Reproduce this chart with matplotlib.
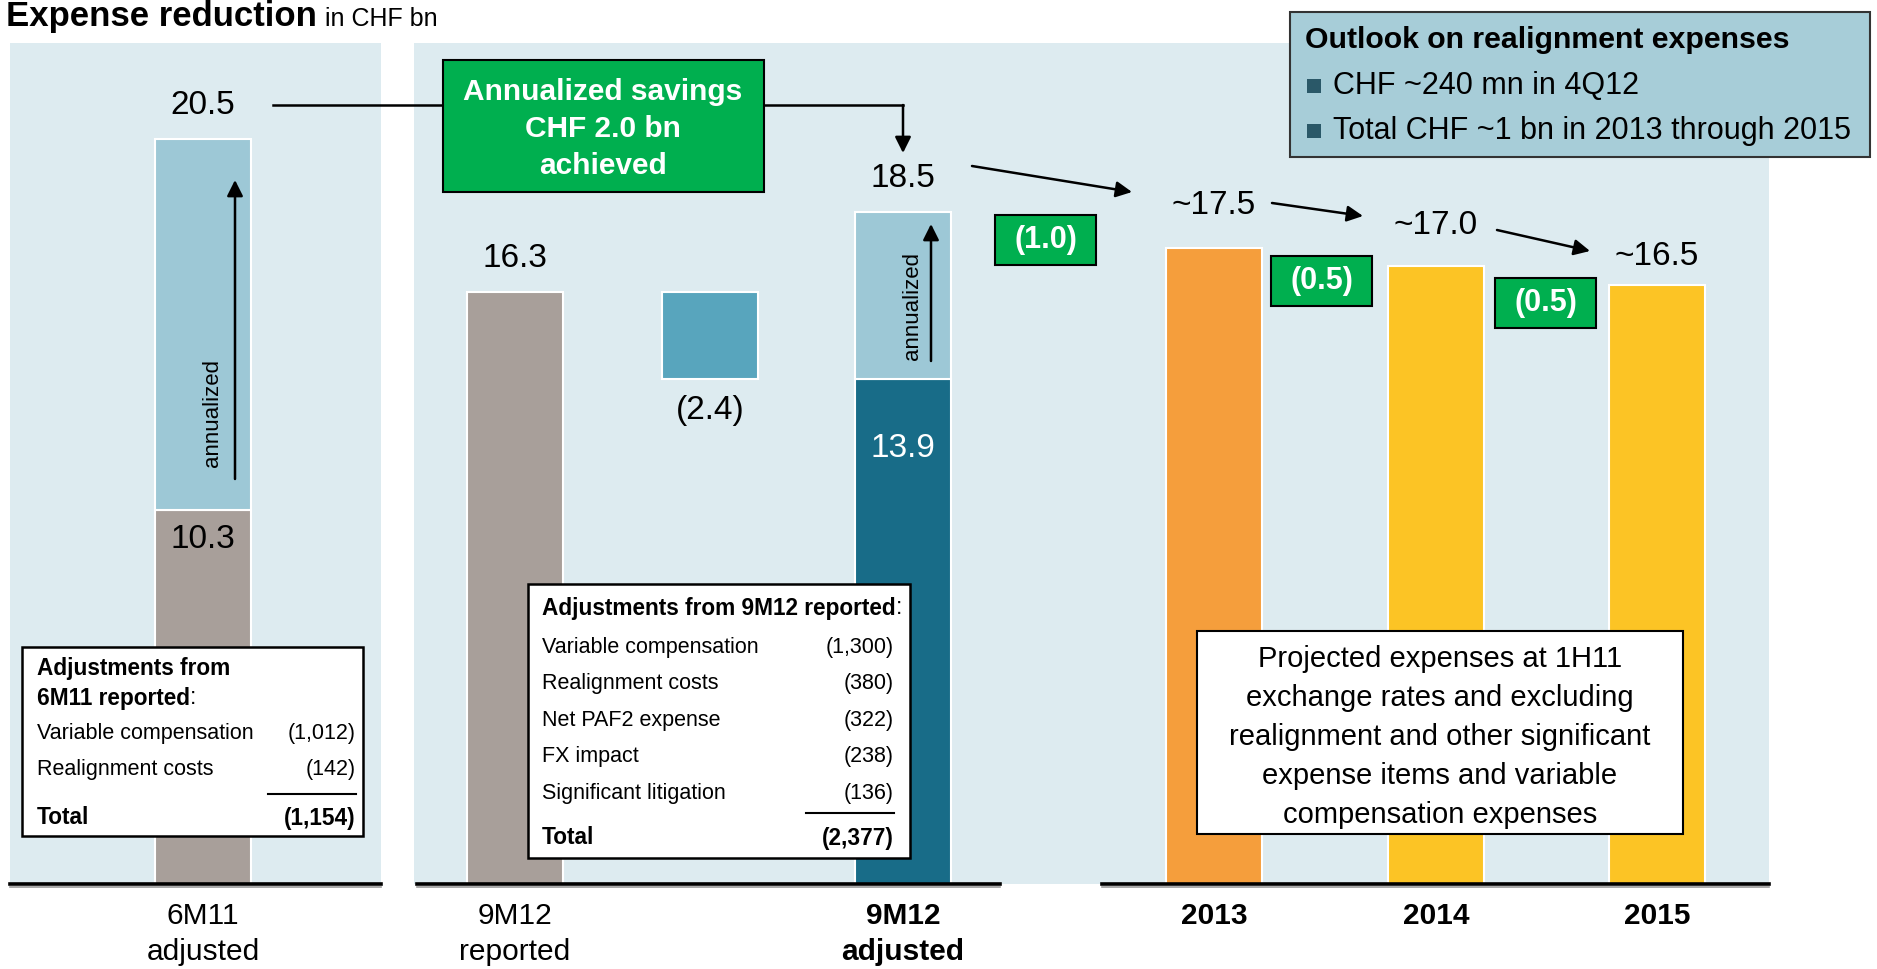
import matplotlib.pyplot as plt
from matplotlib.patches import Rectangle

# ---- data (CHF bn) ----
expense_6m11 = 10.3
annualized_6m11 = 20.5
reported_9m12 = 16.3
adjustment_9m12 = 2.4
adjusted_9m12 = 13.9
annualized_9m12 = 18.5
years = ['2013', '2014', '2015']
projected = [17.5, 17.0, 16.5]
year_savings = ['(1.0)', '(0.5)', '(0.5)']
savings_note = 'Annualized savings\nCHF 2.0 bn\nachieved'

adj_6m11_items = ['Variable compensation', 'Realignment costs']
adj_6m11_values = ['(1,012)', '(142)']
adj_6m11_total = '(1,154)'
adj_9m12_items = ['Variable compensation', 'Realignment costs', 'Net PAF2 expense',
                  'FX impact', 'Significant litigation']
adj_9m12_values = ['(1,300)', '(380)', '(322)', '(238)', '(136)']
adj_9m12_total = '(2,377)'

outlook_title = 'Outlook on realignment expenses'
outlook_points = ['CHF ~240 mn in 4Q12', 'Total CHF ~1 bn in 2013 through 2015']
projected_note = ('Projected expenses at 1H11\nexchange rates and excluding\n'
                  'realignment and other significant\nexpense items and variable\n'
                  'compensation expenses')

# ---- colours ----
PANEL = '#DDEBF0'
GREY = '#A89F9A'
LIGHT = '#9DC8D6'
MID = '#58A5BD'
DARK = '#186C88'
ORANGE = '#F59E3C'
YELLOW = '#FCC425'
GREEN = '#00AF4F'

plt.rcParams['font.family'] = ['Liberation Sans', 'DejaVu Sans']

# figure in pixels; y axis in CHF bn, x axis in pixels
W, H = 1877, 969
BASE = 883.5      # pixel row of the zero line
PPU = 36.3        # pixels per CHF bn

fig = plt.figure(figsize=(W / 100, H / 100), dpi=100)
ax = fig.add_axes([0, 0, 1, 1])
ax.set_xlim(0, W)
ax.set_ylim((BASE - H) / PPU, BASE / PPU)
ax.axis('off')


def Y(py):
    return (BASE - py) / PPU


def box(x0, y0, x1, y1, **kw):
    ax.add_patch(Rectangle((x0, Y(y1)), x1 - x0, Y(y0) - Y(y1), **kw))


def arrow(p0, p1, lw=1.8):
    ax.annotate('', xy=(p1[0], Y(p1[1])), xytext=(p0[0], Y(p0[1])),
                arrowprops=dict(arrowstyle='-|>', color='black', lw=lw,
                                mutation_scale=24, shrinkA=0, shrinkB=0),
                zorder=6)


# panels and baselines
box(10, 43, 381, BASE, fc=PANEL, ec='none', zorder=0)
box(414, 43, 1769, BASE, fc=PANEL, ec='none', zorder=0)
for x0, x1 in [(10, 381), (417, 1000), (1102, 1769)]:
    ax.plot([x0, x1], [Y(BASE + 3)] * 2, color='#9a9a9a', lw=1.2, zorder=3)
    ax.plot([x0, x1], [0, 0], color='black', lw=2.6, zorder=4)

# bars
bw = 96
xs = dict(a=203, r=515, g=710, j=903)
year_x = [1214, 1436, 1657]
kw = dict(width=bw, edgecolor='white', linewidth=1.5, zorder=2)
ax.bar(xs['a'], expense_6m11, color=GREY, **kw)
ax.bar(xs['a'], annualized_6m11 - expense_6m11, bottom=expense_6m11, color=LIGHT, **kw)
ax.bar(xs['r'], reported_9m12, color=GREY, **kw)
ax.bar(xs['g'], adjustment_9m12, bottom=reported_9m12 - adjustment_9m12, color=MID, **kw)
ax.bar(xs['j'], adjusted_9m12, color=DARK, **kw)
ax.bar(xs['j'], annualized_9m12 - adjusted_9m12, bottom=adjusted_9m12, color=LIGHT, **kw)
ax.bar(year_x, projected, color=[ORANGE, YELLOW, YELLOW], **kw)

# value labels
NUM = 24
lab = dict(ha='center', va='center', fontsize=NUM, zorder=7)
ax.text(xs['a'], annualized_6m11 + 34 / PPU, f'{annualized_6m11:.1f}', **lab)
ax.text(xs['a'], expense_6m11 - 30 / PPU, f'{expense_6m11:.1f}', **lab)
ax.text(xs['r'], reported_9m12 + 33 / PPU, f'{reported_9m12:.1f}', **lab)
ax.text(xs['g'], reported_9m12 - adjustment_9m12 - 32 / PPU, f'({adjustment_9m12:.1f})', **lab)
ax.text(xs['j'], annualized_9m12 + 33 / PPU, f'{annualized_9m12:.1f}', **lab)
ax.text(xs['j'], adjusted_9m12 - 70 / PPU, f'{adjusted_9m12:.1f}', color='white', **lab)
for x, v, off in zip(year_x, projected, [43, 41, 28]):
    ax.text(x, v + off / PPU, f'~{v:.1f}', **lab)

# annualized arrows
arrow((235, 479), (235, 180))
ax.text(213, Y(413), 'annualized', rotation=90, ha='center', va='center', fontsize=16, zorder=7)
arrow((931, 361), (931, 224))
ax.text(913, Y(306), 'annualized', rotation=90, ha='center', va='center', fontsize=16, zorder=7)

# green savings boxes
box(443, 60, 764, 192, fc=GREEN, ec='black', lw=1.5, zorder=5)
ax.text(603, Y(129), savings_note, ha='center', va='center', color='white',
        fontsize=21.5, fontweight='bold', linespacing=1.4, zorder=7)
for (x0, y0), s in zip([(995, 215), (1271, 256), (1495, 278)], year_savings):
    box(x0, y0, x0 + 101, y0 + 50, fc=GREEN, ec='black', lw=1.5, zorder=5)
    ax.text(x0 + 50.5, Y(y0 + 25), s, ha='center', va='center', color='white',
            fontsize=22, fontweight='bold', zorder=7)

# connector lines and arrows
ax.plot([273, 443], [Y(105)] * 2, color='black', lw=1.8, zorder=4)
ax.plot([764, 903], [Y(105)] * 2, color='black', lw=1.8, zorder=4)
arrow((903, 105), (903, 153))
arrow((972, 166), (1132, 192))
arrow((1272, 203), (1363, 216))
arrow((1497, 230), (1590, 251))

# adjustment tables
TS = 15.5
TB = 16.3
box(22, 647, 363, 836, fc='white', ec='black', lw=1.8, zorder=5)
ax.text(37, Y(669), 'Adjustments from', fontsize=TB, fontweight='bold', va='center', zorder=7)
t = ax.text(37, Y(698), '6M11 reported', fontsize=TB, fontweight='bold', va='center', zorder=7)
ax.annotate(':', xy=(1, 0.5), xycoords=t, va='center', fontsize=TB, zorder=7)
for item, val, py in zip(adj_6m11_items, adj_6m11_values, [734, 770]):
    ax.text(37, Y(py), item, fontsize=TS, va='center', zorder=7)
    ax.text(356, Y(py), val, fontsize=TS, va='center', ha='right', zorder=7)
ax.plot([268, 356], [Y(794)] * 2, color='black', lw=1.5, zorder=7)
ax.text(37, Y(818), 'Total', fontsize=TB, fontweight='bold', va='center', zorder=7)
ax.text(356, Y(818), adj_6m11_total, fontsize=TB, fontweight='bold', va='center', ha='right', zorder=7)

box(528, 584, 910, 858, fc='white', ec='black', lw=1.8, zorder=5)
t = ax.text(542, Y(608), 'Adjustments from 9M12 reported', fontsize=TB, fontweight='bold',
            va='center', zorder=7)
ax.annotate(':', xy=(1, 0.5), xycoords=t, va='center', fontsize=TB, zorder=7)
for i, (item, val) in enumerate(zip(adj_9m12_items, adj_9m12_values)):
    py = 647 + i * 36.6
    ax.text(542, Y(py), item, fontsize=TS, va='center', zorder=7)
    ax.text(894, Y(py), val, fontsize=TS, va='center', ha='right', zorder=7)
ax.plot([806, 894], [Y(813)] * 2, color='black', lw=1.5, zorder=7)
ax.text(542, Y(838), 'Total', fontsize=TB, fontweight='bold', va='center', zorder=7)
ax.text(894, Y(838), adj_9m12_total, fontsize=TB, fontweight='bold', va='center', ha='right', zorder=7)

# projected expenses note
box(1197, 631, 1683, 834, fc='white', ec='black', lw=1.5, zorder=5)
ax.text(1440, Y(737), projected_note, ha='center', va='center', fontsize=21,
        linespacing=1.5, zorder=7)

# outlook box
box(1290, 12, 1870, 157, fc='#A7CDD8', ec='#333333', lw=1.5, zorder=5)
ax.text(1305, Y(40), outlook_title, fontsize=21.8, fontweight='bold', va='center', zorder=7)
for s, py in zip(outlook_points, [86, 131]):
    box(1307, py - 7, 1321, py + 7, fc='#2A5868', ec='none', zorder=6)
    ax.text(1333, Y(py), s, fontsize=22, va='center', zorder=7)

# category labels
CL = 21.5
for x, l1, l2, bold in [(xs['a'], '6M11', 'adjusted', False), (xs['r'], '9M12', 'reported', False),
                        (xs['j'], '9M12', 'adjusted', True)]:
    fw = 'bold' if bold else 'normal'
    ax.text(x, Y(916), l1, ha='center', va='center', fontsize=CL, fontweight=fw)
    ax.text(x, Y(952), l2, ha='center', va='center', fontsize=CL, fontweight=fw)
for x, yr in zip(year_x, years):
    ax.text(x, Y(916), yr, ha='center', va='center', fontsize=CL, fontweight='bold')

# title
t = ax.text(6, Y(26), 'Expense reduction', fontsize=25, fontweight='bold', va='baseline')
fig.canvas.draw()
x_end = ax.transData.inverted().transform(t.get_window_extent().get_points())[1, 0]
ax.text(x_end + 8, Y(26), 'in CHF bn', fontsize=18, va='baseline')

fig.savefig('out.png', dpi=100)
